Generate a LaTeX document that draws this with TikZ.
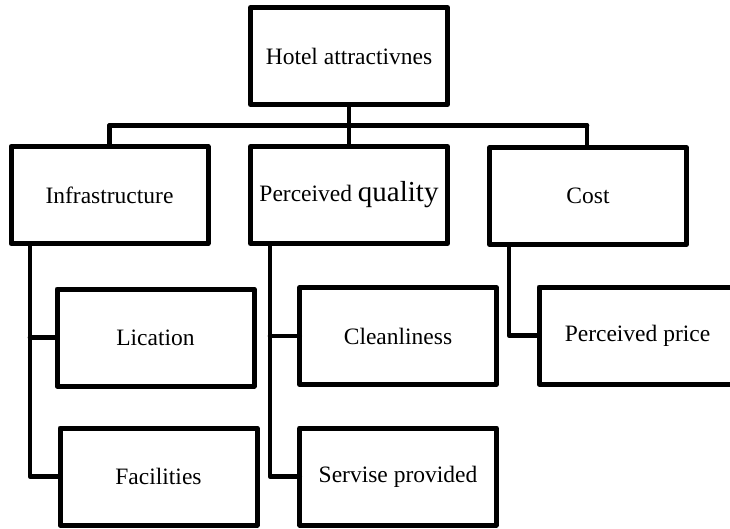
\documentclass[tikz,border=0pt]{standalone}
\usepackage{fontspec}
\setmainfont{Liberation Serif}
\begin{document}
\begin{tikzpicture}[x=1pt,y=-1pt,
  box/.style={draw=black,line width=5pt,line join=round,fill=white,
    inner sep=0pt,outer sep=0pt,minimum width=197pt,minimum height=97pt,
    font=\fontsize{23.5}{28}\selectfont},
  link/.style={draw=black,line width=4.6pt,line join=round,line cap=round}]
\useasboundingbox (0,0) rectangle (730,528);

% junction points of the top-level bar
\coordinate (bar) at (349,125.5);
\coordinate (barL) at (109.5,125.5);
\coordinate (barR) at (587,125.5);

% boxes
\node[box] (hotel) at (349,56) {Hotel attractivnes};
\node[box] (infra) at (109.5,195) {Infrastructure};
\node[box] (qual) at (349,195) {Perceived {\fontsize{29}{33}\selectfont quality}};
\node[box,minimum width=196.5pt] (cost) at (588,196) {Cost};
\node[box] (loc) at (155.5,337.5) {Lication};
\node[box] (fac) at (158.5,476.5) {Facilities};
\node[box,minimum width=196.5pt] (clean) at (398,336) {Cleanliness};
\node[box,minimum width=196.5pt] (serv) at (398,476.5) {Servise provided};
\node[box] (price) at (637.5,335.5) {Perceived price};

% top-level tree
\draw[link] (hotel.south) -- (bar);
\draw[link] (barL) -- (barR);
\draw[link] (barL) -- (infra.north -| barL);
\draw[link] (bar) -- (qual.north);
\draw[link] (barR) -- (cost.north -| barR);

% Infrastructure branch
\draw[link] (infra.south -| 30,0) |- (fac.west);
\draw[link] (30,337.5) -- (loc.west);

% Perceived quality branch
\draw[link] (qual.south -| 270,0) |- (serv.west);
\draw[link] (270,336) -- (clean.west);

% Cost branch
\draw[link] (cost.south -| 509,0) |- (price.west);
\end{tikzpicture}
\end{document}
